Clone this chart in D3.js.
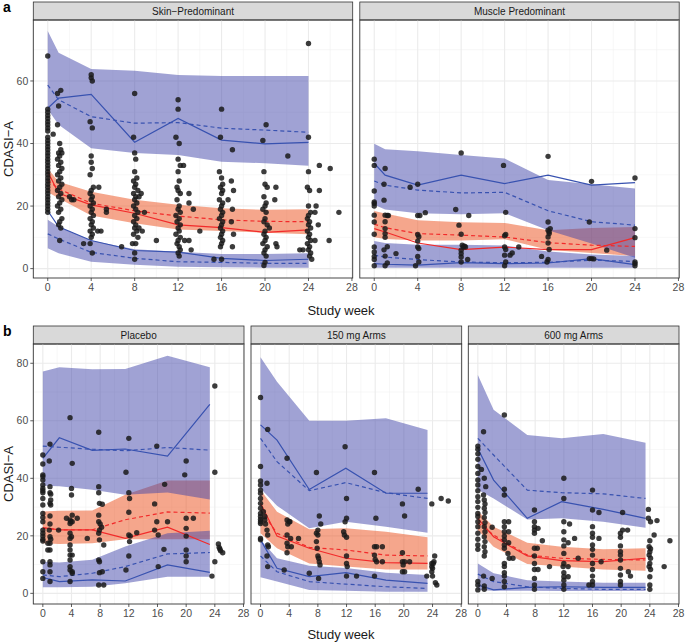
<!DOCTYPE html>
<html>
<head>
<meta charset="utf-8">
<script src="https://cdn.jsdelivr.net/npm/d3@7"></script>
<style>
  body { margin: 0; background: #fff; }
  text { font-family: "Liberation Sans", Arial, sans-serif; }
</style>
</head>
<body>
<svg id="chart" width="685" height="643"></svg>
<script>
// ---- data ----
// bands: [lo, hi] of the 90% PI around the 5th, 50th, 95th percentile; obs = solid, pred = dashed
const skinWeek = [0, 1, 4, 8, 12, 16, 20, 24];
const skinHiBand = [[51, 76], [46, 69], [38.5, 63.8], [37, 63.3], [36.3, 61.9], [34.2, 61.6], [33.7, 61.6], [32.9, 61.6]];
const skinMidBand = [[24.5, 32], [22.5, 27.8], [17, 24.6], [14.5, 22], [12.5, 20.4], [12, 19.3], [11.5, 18.8], [11, 19]];
const skinLoBand = [[6.5, 15.6], [4.9, 13.4], [2.2, 9], [1.2, 6.2], [0.6, 5.4], [0.4, 4.7], [0.3, 4.7], [0.3, 4.9]];
const skinHiObs = [51.3, 54.5, 55.7, 40.4, 48, 41.1, 39.9, 40.4];
const skinHiPred = [58.7, 54, 48.6, 46.5, 46.7, 44.9, 44.3, 43.6];
const skinMidObs = [31, 24.1, 20.4, 17.7, 14, 13.1, 11.6, 12.4];
const skinMidPred = [28.3, 25.5, 20.9, 18.5, 16.8, 15.6, 15.1, 15];
const skinLoObs = [18.5, 13.4, 9, 5.8, 5.3, 3.3, 2.6, 3];
const skinLoPred = [11.1, 9.5, 5.2, 3.3, 2.2, 2, 1.7, 1.7];
const skinPoints = [
  [0,68],[0,51],[0,50],[0,49],[0,48],[0,47],[0,46],[0,45],[0,44],[0,42],[0,41],[0,40],[0,39],[0,38],[0,37],[0,36],[0,35],
  [0,34],[0,33],[0,32],[0,31],[0,30],[0,29],[0,28],[0,27],[0,26],[0,25],[0,24],[0,23],[0,22],[0,21],[0,20],[0,19],[0,18],[0.5,43],
  [1.2,57],[0.9,56],[1.0,52],[0.9,46],[1.1,40],[1.2,38],[1.0,37],[1.3,37],[1.1,36],[0.9,35],[1.2,34],[1.0,33],[1.3,32],[1.1,31],
  [0.9,30],[1.2,29],[1.0,28],[1.3,27],[1.1,26],[0.9,25],[1.2,24],[1.0,23],[1.3,22],[1.1,21],[0.9,20],[1.2,19],[1.0,18],[1.3,16],
  [1.1,15],[1.0,14],[1.2,13],[1.1,9],[2.0,23],[2.2,22],[2.4,22],
  [3.3,8],[4.0,62],[4.0,61],[4.1,60],[3.9,47],[4.1,45],[4.0,36],[4.0,34],[4.1,32],[3.9,30],[4.2,26],[4.0,25],[3.9,24],[4.1,23],
  [4.0,22],[4.2,21],[3.9,20],[4.1,19],[4.0,18],[4.2,17],[3.9,16],[4.1,15],[4.0,14],[4.2,13],[3.9,12],[4.1,11],[4.0,10],[4.1,5],
  [4.7,26],[4.6,12],[4.9,12],[5.4,19],[5.4,18],[3.9,8],
  [6.8,7],[8.0,56],[7.9,42],[8.0,37],[8.1,35],[8.0,31],[8.2,29],[7.9,28],[8.1,27],[8.0,26],[8.3,25],[7.9,24],[8.1,23],[8.4,23],
  [8.0,22],[8.2,21],[7.9,20],[8.1,19],[8.3,18],[8.0,17],[8.2,16],[7.9,15],[8.1,14],[8.4,13],[8.0,13],[8.2,12],[7.9,11],[8.3,10],
  [8.1,8],[7.8,8],[8.0,5],[8.0,3],[8.9,18],[10.0,9],[8.6,24],[8.7,12],
  [12.0,54],[12.0,51],[11.8,42],[12.1,40],[12.0,35],[12.2,33],[12.0,31],[12.1,28],[11.9,26],[12.0,25],[12.2,24],[11.9,22],
  [12.1,20],[12.0,19],[12.2,18],[11.8,17],[12.1,16],[11.9,15],[12.2,14],[12.0,13],[12.1,12],[11.8,11],[12.2,10],[12.0,9],
  [11.9,8],[12.1,7],[12.2,6],[12.0,5],[12.1,4],[13.0,24],[13.0,21],[13.0,9],[13.4,19],[13.2,6],[12.6,9],[14.0,12],[12.5,33],
  [16.0,51],[15.9,42],[15.8,31],[16.0,29],[16.1,27],[15.9,26],[16.1,25],[16.0,24],[15.8,22],[16.1,21],[16.0,20],[15.9,19],
  [16.1,18],[16.0,17],[15.8,16],[16.1,15],[16.0,14],[15.9,13],[16.1,12],[16.0,11],[15.9,10],[16.1,9],[16.0,8],[15.9,7],
  [16.0,3],[15.3,3],[17.0,38],[16.9,28],[17.1,25],[17.0,19],[16.9,15],[17.1,11],[17.0,7],[16.6,22],
  [20.1,46],[19.8,41],[19.9,31],[20.0,27],[20.2,26],[19.9,23],[20.1,21],[20.0,20],[19.8,19],[20.1,18],[20.0,16],[19.9,15],
  [20.2,14],[20.0,12],[19.9,11],[20.1,10],[20.0,9],[19.8,8],[20.2,7],[20.0,6],[19.9,5],[20.1,4],[20.0,2],[19.9,1],
  [21.0,26],[20.9,22],[21.0,8],[21.1,7],[22.1,36],[20.4,13],
  [24.0,72],[24.0,42],[24.0,31],[23.9,26],[24.1,25],[24.0,20],[24.2,18],[24.0,17],[23.9,16],[24.1,15],[24.0,14],[24.2,13],
  [23.9,12],[24.1,11],[24.0,10],[24.2,9],[23.9,8],[24.1,7],[24.0,6],[24.2,5],[24.1,4],[24.3,3],[25.0,33],[25.0,25],[24.9,14],
  [24.6,18],[24.7,20],[26.0,32],[25.9,9],[26.8,18],[23.2,6],[23.5,6],[24.6,9]
];

const muscleWeek = [0, 1, 4, 8, 12, 16, 20, 24];
const muscleHiBand = [[20.4, 39.9], [18.9, 38.2], [17.7, 37.5], [17.4, 36.3], [17.7, 35.2], [12.3, 28.3], [8, 27], [3.5, 25.6]];
const muscleMidBand = [[10, 18.4], [9.5, 17.6], [9, 15.5], [9, 14.8], [9.4, 14.6], [6, 12.3], [5, 13], [4, 13.3]];
const muscleLoBand = [[0.3, 8.8], [0.3, 8.2], [0.3, 7.6], [0.3, 7.6], [0.3, 7.4], [0.3, 5.5], [0.3, 4.5], [0.3, 4]];
const muscleHiObs = [33.7, 29.9, 26.7, 29.9, 27.2, 29.9, 26.7, 27.5];
const muscleHiPred = [28, 26.7, 25.1, 24.2, 24.4, 18.5, 15, 13.9];
const muscleMidObs = [12.8, 11.7, 8.2, 6.1, 6.9, 6.1, 6.1, 9.9];
const muscleMidPred = [14.2, 13.1, 11.2, 10.7, 10.1, 8.3, 7.5, 7.1];
const muscleLoObs = [1.6, 1.4, 1.1, 1.9, 1.6, 1.8, 3.2, 1.3];
const muscleLoPred = [4.3, 3.7, 2.9, 2.1, 1.9, 2, 2.7, 2.3];
const musclePoints = [
  [0,35],[0,33],[0,24.8],[0,21.3],[0,20.8],[0,20],[0,17.1],[0,14.9],[0,11],[0,6.9],[0,5.3],[0,3.9],[0,2.9],[0,0.9],
  [1.0,32],[0.9,27],[0.9,21.9],[1.0,17.1],[1.2,17],[1.3,17],[1.0,15],[1.0,12.8],[1.0,11.2],[1.0,10],[1.2,7],[0.9,6],[1.0,4],
  [1.2,1.8],[1.0,0.9],[2.0,4.8],[3.3,26],
  [4.0,27],[4.0,17],[4.2,17],[4.0,10.9],[4.1,10.2],[4.0,8.8],[4.0,6.9],[4.1,6.4],[4.0,3.9],[4.1,2.1],[3.8,0.9],[4.7,17.9],
  [7.5,18.9],[7.8,13.9],[8.0,37],[8.0,11],[8.1,7.5],[8.2,6.9],[8.0,5.9],[8.0,4.8],[8.0,3.7],[8.0,2.1],[8.4,6.9],[8.3,7.2],
  [8.6,2.9],[8.7,17],
  [11.9,33],[12.1,18],[12.1,10.9],[12.0,10.5],[12.0,6.9],[12.1,6.1],[12.0,4.3],[12.1,2.1],[12.0,0.9],[12.5,4.3],[12.7,5],[13.3,6.9],
  [15.4,3.9],[16.0,35.9],[16.0,14.9],[16.0,12.3],[16.1,11.2],[16.0,10.1],[16.0,8.2],[16.1,6.1],[16.0,2.9],[15.9,2.1],
  [16.2,12.8],[16.1,11.8],
  [19.8,14.9],[19.8,3.2],[20.0,27.9],[20.0,3.2],[20.2,3.1],[21.4,5.9],
  [24.0,29],[24.0,12.8],[24.0,9.9],[24.0,2.1],[24.0,1.6],[24.0,0.9]
];

const placeboWeek = [0, 2.3, 6.9, 11.5, 17.4, 23.3];
const placeboHiBand = [[37.4, 77.1], [37.2, 78.6], [36, 77.9], [34.3, 78], [35.1, 82.6], [32.6, 78.6]];
const placeboMidBand = [[17.4, 28.5], [17.2, 28.7], [17.4, 28.8], [18.8, 34.3], [18.8, 39.2], [18.8, 39.2]];
const placeboLoBand = [[2.1, 11], [2.1, 10.7], [2.3, 11.7], [3.5, 16.3], [5.8, 20.9], [5.8, 21.8]];
const placeboHiObs = [46.9, 54.1, 49.7, 50.2, 47.7, 65.7];
const placeboHiPred = [51.2, 50.8, 50.1, 49.6, 50.7, 49.8];
const placeboMidObs = [22.9, 22.1, 22.1, 19.1, 23, 17];
const placeboMidPred = [22.7, 22.1, 22.1, 25.6, 28.3, 27.9];
const placeboLoObs = [5.5, 4.1, 4.7, 4.3, 9.9, 7.3];
const placeboLoPred = [6.4, 5.8, 7, 9.3, 13.7, 14.2];
const placeboPoints = [
  [0,48.1],[0,45],[0,41.2],[0,40.6],[0,39.4],[0,37.7],[0,36.5],[0,35.7],[0,35],[0,33],[0,30.7],[0,27.8],[0,26.4],[0,24.9],
  [0,22],[0,20.9],[0,19.9],[0,18.8],[0,18.2],[0,11],[0,7.5],[0,5.2],
  [1.0,51.9],[0.9,46],[1.0,37.1],[1.0,35],[1.1,34.5],[1.1,32.5],[1.0,31.3],[1.1,30.7],[1.0,26.9],[1.0,24.1],[0.9,22],
  [1.0,19.7],[1.1,18.8],[1.0,17.4],[1.0,15.1],[0.7,17.4],[0.7,15.1],[1.0,11],[1.0,9.9],[1.0,7.5],[1.0,4.1],
  [2.2,22],[3.3,26.1],
  [3.8,61.1],[3.8,25.5],[3.9,24.9],[3.8,24.3],[3.8,20.9],[3.8,19.1],[3.8,16.8],[3.8,15.1],[3.8,13.3],[3.8,11.6],[3.8,9.3],
  [3.8,8.1],[3.8,4.1],[4.1,45.2],[4.0,36.5],[4.0,34.2],[4.1,27.2],[4.1,24.9],[4.0,19.7],[4.1,13.3],[4.1,7.5],[4.1,7],
  [4.8,26.1],[6.2,19.1],
  [7.8,56],[7.8,37.1],[7.8,35],[7.9,31.3],[7.8,27.2],[7.8,24.9],[8.0,24.1],[7.9,22],[7.8,20.9],[7.9,18.6],[7.8,11.6],
  [7.9,11],[7.9,7.2],[7.8,2.9],[8.5,2.9],[8.5,16.8],[8.3,7.5],[8.3,31],[8.2,23],
  [11.6,42.1],[11.6,8.1],[12.0,53.9],[12.0,35],[12.1,33],[12.0,28.2],[12.0,20.3],[12.1,18],[12.0,13],[12.2,19.9],[13.1,21.1],
  [15.6,31.1],[15.6,22],[15.9,51.2],[15.9,24.9],[16.1,20.3],[16.1,9.3],[16.9,15.3],[17.0,37.9],[17.4,24.9],
  [19.8,41.2],[20.0,46],[20.0,26.1],[20.0,22.6],[20.0,19.9],[20.0,15.1],[20.0,13],[20.0,11],[21.0,26.1],
  [23.6,6],[24.0,72.1],[24.0,42.1],[24.0,11],[24.5,17.2],[24.6,16],[24.7,15.4],[24.8,14.8],[25.1,14.1]
];

const arm150Week = [0, 2.3, 6.8, 11.9, 17.5, 23.3];
const arm150HiBand = [[36.5, 82.1], [30.5, 73.6], [22.6, 60], [24.9, 60], [23.2, 60.9], [21.1, 56.8]];
const arm150MidBand = [[20.9, 35.9], [15.7, 28.4], [10.4, 22.3], [9.3, 22.6], [8.3, 21.4], [8.3, 19.5]];
const arm150LoBand = [[5.6, 18.6], [4.1, 12.2], [1.2, 9.6], [0.9, 8.8], [0.6, 7.2], [0.6, 6.4]];
const arm150HiObs = [58.6, 53.3, 36.1, 43.5, 34.8, 34.8];
const arm150HiPred = [53.9, 45.8, 35.7, 38.5, 35, 33];
const arm150MidObs = [31.3, 19.9, 15.7, 12.2, 10.7, 10.4];
const arm150MidPred = [29, 20.9, 16, 15.1, 13.3, 13];
const arm150LoObs = [18.6, 8.7, 5.8, 7.2, 4.6, 3.5];
const arm150LoPred = [13, 7.5, 4.1, 3.2, 2.3, 1.7];
const arm150Points = [
  [0,68.1],[0,44.1],[0,39.1],[0,37.7],[0,35.9],[0,34.8],[0,33],[0,31.3],[0,29.6],[0,27.8],[0,26.7],[0,25.7],[0,24.9],
  [0,24.3],[0,19.1],[0,18.6],
  [1.0,57],[0.9,38.3],[0.4,28.4],[0.6,26.7],[0.6,25.5],[0.7,24.1],[0.9,22],[1.0,20.3],[1.0,16.8],[1.1,16.2],[0.9,13],[1.0,9.3],
  [3.3,8.1],[3.7,47],[3.7,25.5],[4.0,24.9],[3.8,24.1],[3.7,20.3],[3.7,17.4],[3.8,16.2],[3.7,14.1],[4.1,24.9],[4.2,19.1],
  [4.3,16.2],[5.3,19.1],
  [6.8,7],[7.8,42],[7.8,20.9],[7.8,18],[8.2,26.9],[8.4,24.1],[7.9,15.7],[8.0,13],[8.1,12.2],[8.2,11],[8.3,9.9],[8.1,5.2],
  [8.0,22],[8.0,20.3],
  [11.8,51],[11.8,24.9],[11.6,21.4],[11.7,20.3],[12.0,33],[12.0,26.1],[12.0,19.5],[12.0,13],[12.0,10.4],[12.1,9.3],[12.0,6],
  [13.4,6],
  [15.9,42],[16.1,26.1],[15.9,16.2],[16.2,16.2],[15.9,13.3],[16.0,11.8],[16.2,11],[15.9,6],[17.0,16.2],[17.0,11],
  [19.8,31.1],[19.8,14.1],[19.8,11],[19.9,9.9],[19.8,7.5],[20.1,26.9],[20.1,11],[20.1,7.5],[20.8,11],[22.0,36.2],
  [23.2,6],[23.9,31.1],[23.9,10.4],[23.9,9.3],[23.9,7.5],[24.0,6],[24.3,13],[24.2,11],[24.1,10.4],[24.0,8.7],[24.4,3.7],
  [24.6,2.9],[25.2,33],[26.2,32.1]
];

const arm600Week = [0, 2.2, 6.9, 11.7, 17.5, 23.4];
const arm600HiBand = [[36, 75.9], [33, 63.8], [25.7, 55.1], [26.1, 53.9], [24.9, 55.4], [22.8, 52.4]];
const arm600MidBand = [[22, 28.6], [16.2, 23.2], [10.2, 17.6], [9.3, 16.2], [8.3, 15.3], [7.9, 15.7]];
const arm600LoBand = [[1.2, 10.4], [0.9, 7], [0.9, 4.6], [0.8, 4.1], [0.8, 3.7], [0.8, 3.7]];
const arm600HiObs = [50.4, 39.4, 26.1, 31.9, 29.2, 26.1];
const arm600HiPred = [53.9, 48.1, 35.9, 35, 34.6, 33];
const arm600MidObs = [26.1, 19.7, 13, 11.4, 11, 12.2];
const arm600MidPred = [24.6, 20.3, 13.3, 12.2, 11.8, 11.6];
const arm600LoObs = [2.9, 1.2, 2.1, 2.3, 2.1, 2.1];
const arm600LoPred = [6.7, 4.1, 2.3, 1.7, 1.4, 1.4];
const arm600Points = [
  [0,51.2],[0,50.1],[0,48.5],[0,46.6],[0,44.1],[0,41.7],[0,39.4],[0,37.7],[0,35.7],[0,33.6],[0,31.9],[0,29.9],[0,27.8],
  [0,26.7],[0,24.9],[0,23.2],[0,20.9],[0,18.8],[0,16.8],[0,15.3],[0,4.1],[0,2.9],[0,1.2],
  [0.8,56.2],[0.5,43.1],[0.9,40],[1.1,37.1],[0.8,34.2],[0.9,32.5],[1.0,31.1],[0.9,29.6],[1.0,28.1],[0.9,26.4],[1.0,24.6],
  [0.9,23.2],[1.0,21.4],[0.9,19.7],[1.0,18],[0.9,16.2],[1.0,14.5],[0.9,13],[0.8,6],[0.9,2.6],[0.9,1.4],
  [2.0,23],[2.0,5.2],
  [3.7,62],[3.7,36.2],[3.7,34.2],[3.7,24.9],[3.7,23.2],[3.7,21.4],[3.7,19.9],[3.7,18.6],[3.7,16.8],[3.7,15.7],[3.7,10.4],
  [3.7,9.3],[3.7,7.2],[3.7,6],[3.7,4.1],[3.7,2.3],[4.3,24.9],[4.3,21.4],[4.3,17.6],[4.2,13.9],[4.4,12.2],[4.9,12.2],
  [7.9,29],[7.9,24.9],[7.9,23.2],[7.9,22],[7.9,20.9],[7.9,15.7],[7.9,13],[7.9,10.4],[7.9,8.3],[7.9,5.2],[7.9,2.9],[7.9,1.4],
  [8.4,22.6],[8.3,15.7],[8.4,8.3],[9.0,18.3],[10.0,9.3],
  [12.0,40],[12.0,33],[12.0,24.9],[12.0,21.4],[12.0,18.6],[12.0,16.5],[12.0,13.9],[12.0,10.4],[11.9,9.3],[12.0,7.2],
  [12.0,5.8],[12.0,4.6],[12.0,2.9],[12.0,1.4],[12.6,17.6],[12.6,9.3],[12.6,5.8],[12.8,24.1],[13.5,19.1],[14.0,12.2],
  [16.0,35.9],[16.0,29],[16.0,23.2],[16.0,20.9],[16.0,19.5],[16.0,16.8],[16.0,15.3],[16.0,13.3],[16.0,10.4],[16.0,8.3],
  [16.0,6],[16.0,4.1],[16.0,2.9],[15.5,2.9],[16.9,28.1],[16.9,19.1],[17.2,11],
  [19.9,20.9],[19.9,19.5],[19.9,16.5],[19.9,14.5],[19.9,13.3],[19.9,11.6],[19.9,8.7],[19.9,6.4],[19.9,4.1],[19.9,2.9],
  [20.2,28.1],[20.2,22],[20.9,22],[21.0,7.5],[21.3,6],
  [23.8,29.2],[23.8,26.1],[24.1,24.9],[24.0,18.3],[23.9,16.2],[24.1,15.5],[24.0,14.5],[23.9,13.3],[24.1,12.2],[24.0,10.4],
  [23.9,9.3],[24.1,8.3],[24.0,5.8],[24.0,2.9],[24.0,1.4],[24.6,20.3],[25.0,25.3],[26.0,9.3],[26.8,18.3]
];

const xTicks = [0, 4, 8, 12, 16, 20, 24, 28];
const xMinor = [2, 6, 10, 14, 18, 22, 26];
const yTicksA = [0, 20, 40, 60];
const yMinorA = [10, 30, 50, 70];
const yTicksB = [0, 20, 40, 60, 80];
const yMinorB = [10, 30, 50, 70];

// ---- drawing ----
const svg = d3.select("#chart");
const blueFill = "rgb(65,69,169)", redFill = "rgb(235,77,25)";
const blueLine = "#3852b0", redLine = "#f22a2a";

function drawPanel(name, week, bands, lines, points, box, yDomain, yTicks, yMinor, showY) {
    const x = d3.scaleLinear().domain([-1.33, 28.07]).range([box.x, box.x + box.w]);
    const y = d3.scaleLinear().domain(yDomain).range([box.y + box.h, box.y]);
    const g = svg.append("g");
    const clipId = "clip-" + name.replace(/\W/g, "");

    g.append("clipPath").attr("id", clipId).append("rect")
        .attr("x", box.x).attr("y", box.y).attr("width", box.w).attr("height", box.h);

    // strip
    g.append("rect").attr("x", box.x).attr("y", box.y - 18).attr("width", box.w).attr("height", 18)
        .attr("fill", "#d9d9d9").attr("stroke", "#333").attr("stroke-width", 0.8);
    g.append("text").attr("x", box.x + box.w / 2).attr("y", box.y - 5.5)
        .attr("text-anchor", "middle").attr("font-size", 10).attr("fill", "#1a1a1a").text(name);

    // grid
    const grid = g.append("g");
    grid.selectAll(".xm").data(xMinor).join("line")
        .attr("x1", d => x(d)).attr("x2", d => x(d)).attr("y1", box.y).attr("y2", box.y + box.h)
        .attr("stroke", "#f2f2f2").attr("stroke-width", 0.6);
    grid.selectAll(".ym").data(yMinor).join("line")
        .attr("y1", d => y(d)).attr("y2", d => y(d)).attr("x1", box.x).attr("x2", box.x + box.w)
        .attr("stroke", "#f2f2f2").attr("stroke-width", 0.6);
    grid.selectAll(".xg").data(xTicks).join("line")
        .attr("x1", d => x(d)).attr("x2", d => x(d)).attr("y1", box.y).attr("y2", box.y + box.h)
        .attr("stroke", "#ebebeb").attr("stroke-width", 1.1);
    grid.selectAll(".yg").data(yTicks).join("line")
        .attr("y1", d => y(d)).attr("y2", d => y(d)).attr("x1", box.x).attr("x2", box.x + box.w)
        .attr("stroke", "#ebebeb").attr("stroke-width", 1.1);

    const body = g.append("g").attr("clip-path", "url(#" + clipId + ")");

    const area = d3.area().x((d, i) => x(week[i])).y0(d => y(d[0])).y1(d => y(d[1]));
    body.append("path").attr("d", area(bands.mid)).attr("fill", redFill).attr("fill-opacity", 0.5);
    body.append("path").attr("d", area(bands.hi)).attr("fill", blueFill).attr("fill-opacity", 0.5);
    body.append("path").attr("d", area(bands.lo)).attr("fill", blueFill).attr("fill-opacity", 0.5);

    const line = d3.line().x((d, i) => x(week[i])).y(d => y(d));
    lines.forEach(l => {
        body.append("path").attr("d", line(l.v)).attr("fill", "none")
            .attr("stroke", l.c).attr("stroke-width", 1.2)
            .attr("stroke-dasharray", l.dash ? "4,3" : null);
    });

    body.selectAll("circle").data(points).join("circle")
        .attr("cx", d => x(d[0])).attr("cy", d => y(d[1])).attr("r", 2.7)
        .attr("fill", "#1a1a1a").attr("fill-opacity", 0.85);

    // border
    g.append("rect").attr("x", box.x).attr("y", box.y).attr("width", box.w).attr("height", box.h)
        .attr("fill", "none").attr("stroke", "#333").attr("stroke-width", 0.9);

    // x axis
    const xa = g.append("g");
    xa.selectAll("line").data(xTicks).join("line")
        .attr("x1", d => x(d)).attr("x2", d => x(d)).attr("y1", box.y + box.h).attr("y2", box.y + box.h + 3)
        .attr("stroke", "#333").attr("stroke-width", 0.8);
    xa.selectAll("text").data(xTicks).join("text")
        .attr("x", d => x(d)).attr("y", box.y + box.h + 13).attr("text-anchor", "middle")
        .attr("font-size", 10.5).attr("fill", "#4d4d4d").text(d => d);

    if (showY) {
        const ya = g.append("g");
        ya.selectAll("line").data(yTicks).join("line")
            .attr("y1", d => y(d)).attr("y2", d => y(d)).attr("x1", box.x - 3).attr("x2", box.x)
            .attr("stroke", "#333").attr("stroke-width", 0.8);
        ya.selectAll("text").data(yTicks).join("text")
            .attr("x", box.x - 5).attr("y", d => y(d) + 3.7).attr("text-anchor", "end")
            .attr("font-size", 10.5).attr("fill", "#4d4d4d").text(d => d);
    }
}

function panelLines(hiObs, hiPred, midObs, midPred, loObs, loPred) {
    return [
        { v: hiPred, c: blueLine, dash: true }, { v: loPred, c: blueLine, dash: true },
        { v: midPred, c: redLine, dash: true },
        { v: hiObs, c: blueLine }, { v: loObs, c: blueLine }, { v: midObs, c: redLine }
    ];
}

const yDomA = [-3, 79.5], yDomB = [-3.7, 86.7];
const topY = 20, topH = 258, botY = 344, botH = 260;

drawPanel("Skin\u2212Predominant", skinWeek, { hi: skinHiBand, mid: skinMidBand, lo: skinLoBand },
    panelLines(skinHiObs, skinHiPred, skinMidObs, skinMidPred, skinLoObs, skinLoPred), skinPoints,
    { x: 33.3, y: topY, w: 319.4, h: topH }, yDomA, yTicksA, yMinorA, true);
drawPanel("Muscle Predominant", muscleWeek, { hi: muscleHiBand, mid: muscleMidBand, lo: muscleLoBand },
    panelLines(muscleHiObs, muscleHiPred, muscleMidObs, muscleMidPred, muscleLoObs, muscleLoPred), musclePoints,
    { x: 359.8, y: topY, w: 319.4, h: topH }, yDomA, yTicksA, yMinorA, false);

drawPanel("Placebo", placeboWeek, { hi: placeboHiBand, mid: placeboMidBand, lo: placeboLoBand },
    panelLines(placeboHiObs, placeboHiPred, placeboMidObs, placeboMidPred, placeboLoObs, placeboLoPred), placeboPoints,
    { x: 33.3, y: botY, w: 210.7, h: botH }, yDomB, yTicksB, yMinorB, true);
drawPanel("150 mg Arms", arm150Week, { hi: arm150HiBand, mid: arm150MidBand, lo: arm150LoBand },
    panelLines(arm150HiObs, arm150HiPred, arm150MidObs, arm150MidPred, arm150LoObs, arm150LoPred), arm150Points,
    { x: 251, y: botY, w: 210.7, h: botH }, yDomB, yTicksB, yMinorB, false);
drawPanel("600 mg Arms", arm600Week, { hi: arm600HiBand, mid: arm600MidBand, lo: arm600LoBand },
    panelLines(arm600HiObs, arm600HiPred, arm600MidObs, arm600MidPred, arm600LoObs, arm600LoPred), arm600Points,
    { x: 468.3, y: botY, w: 210.7, h: botH }, yDomB, yTicksB, yMinorB, false);

// titles
svg.append("text").attr("x", 341).attr("y", 315).attr("text-anchor", "middle")
    .attr("font-size", 13).attr("fill", "#1a1a1a").text("Study week");
svg.append("text").attr("x", 341).attr("y", 639).attr("text-anchor", "middle")
    .attr("font-size", 13).attr("fill", "#1a1a1a").text("Study week");
svg.append("text").attr("transform", "translate(13," + (topY + topH / 2) + ") rotate(-90)")
    .attr("text-anchor", "middle").attr("font-size", 13).attr("fill", "#1a1a1a").text("CDASI\u2212A");
svg.append("text").attr("transform", "translate(13," + (botY + botH / 2) + ") rotate(-90)")
    .attr("text-anchor", "middle").attr("font-size", 13).attr("fill", "#1a1a1a").text("CDASI\u2212A");
svg.append("text").attr("x", 3).attr("y", 12).attr("font-size", 14).attr("font-weight", "bold").text("a");
svg.append("text").attr("x", 3).attr("y", 336).attr("font-size", 14).attr("font-weight", "bold").text("b");
</script>
</body>
</html>
